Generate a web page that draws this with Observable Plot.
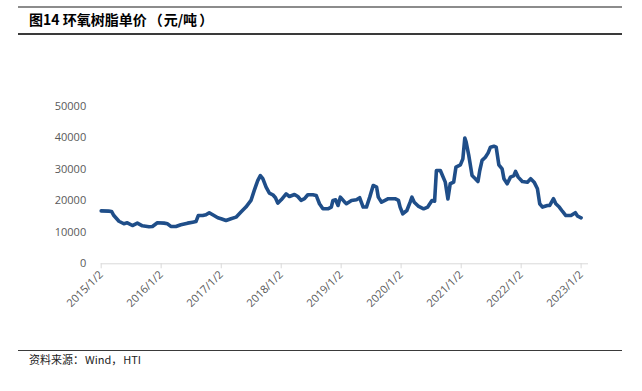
<!DOCTYPE html>
<html>
<head>
<meta charset="utf-8">
<script src="https://cdn.jsdelivr.net/npm/d3@7"></script>
<script src="https://cdn.jsdelivr.net/npm/@observablehq/plot@0.6"></script>
<style>
  html, body { margin: 0; padding: 0; background: #fff; }
  #wrap { position: relative; width: 642px; height: 391px; overflow: hidden; background: #fff; }
  #chart { position: absolute; left: 0; top: 0; }
  .rule { position: absolute; left: 18px; width: 604px; }
  #title { position: absolute; left: 29px; top: 10px; font-family: "Noto Sans CJK SC", sans-serif; font-weight: bold; font-size: 14px; color: #000; white-space: nowrap; line-height: 18px; }
  #source { position: absolute; left: 29px; top: 351px; font-family: "Noto Sans CJK SC", sans-serif; font-size: 11px; color: #222; white-space: nowrap; line-height: 16px; }
  .pl { padding-left: 2px; padding-right: 1px; }
  .pr { padding-left: 2px; padding-right: 4px; }
  .cm { padding-right: 1px; }
</style>
</head>
<body>
<div id="wrap">
  <div class="rule" style="top:6px;height:2px;background:#8c8c8c;"></div>
  <div id="title">图14 环氧树脂单价<span class="pl">（</span>元/吨<span class="pr">）</span></div>
  <div class="rule" style="top:33px;height:1.5px;background:#3a3a3a;"></div>
  <div id="chart"></div>
  <div class="rule" style="top:350px;height:1px;background:#3a3a3a;"></div>
  <div id="source">资料来源<span class="cm">：</span>Wind<span class="cm">，</span>HTI</div>
</div>
<script>
const dates = [
  "2015-01-02","2015-02-17","2015-03-06","2015-03-20","2015-04-20","2015-05-20","2015-06-10","2015-07-11",
  "2015-08-10","2015-09-10","2015-10-20","2015-11-10","2015-12-10","2016-01-20","2016-02-10","2016-03-01",
  "2016-04-01","2016-05-01","2016-06-11","2016-07-12","2016-08-01","2016-08-15","2016-09-11","2016-10-01",
  "2016-10-21","2016-11-11","2016-12-12","2017-01-01","2017-01-31","2017-03-02","2017-04-02","2017-05-02",
  "2017-06-01","2017-07-02","2017-07-22","2017-08-12","2017-08-28","2017-09-12","2017-10-02","2017-10-22",
  "2017-11-12","2017-11-28","2017-12-12","2018-01-02","2018-02-01","2018-02-21","2018-03-24","2018-04-13",
  "2018-05-03","2018-05-24","2018-06-13","2018-07-14","2018-08-03","2018-08-23","2018-09-13","2018-10-13",
  "2018-11-03","2018-11-13","2018-11-29","2018-12-14","2018-12-28","2019-01-24","2019-02-03","2019-03-06",
  "2019-04-05","2019-04-25","2019-05-16","2019-06-05","2019-06-25","2019-07-16","2019-08-06","2019-08-16",
  "2019-09-05","2019-09-26","2019-10-16","2019-11-26","2019-12-17","2019-12-27","2020-01-12","2020-02-06",
  "2020-02-26","2020-03-08","2020-03-22","2020-04-18","2020-05-18","2020-06-12","2020-07-08","2020-07-24",
  "2020-08-04","2020-08-28","2020-09-27","2020-10-13","2020-10-27","2020-11-17","2020-12-01","2020-12-28",
  "2021-01-12","2021-01-24","2021-02-01","2021-02-17","2021-03-09","2021-03-29","2021-04-14","2021-04-25",
  "2021-05-09","2021-05-29","2021-06-15","2021-06-29","2021-07-20","2021-08-03","2021-08-19","2021-09-08",
  "2021-09-19","2021-10-09","2021-10-29","2021-11-19","2021-11-29","2021-12-15","2022-01-09","2022-02-09",
  "2022-03-01","2022-03-22","2022-04-11","2022-04-25","2022-05-12","2022-06-11","2022-06-25","2022-07-18",
  "2022-08-01","2022-08-22","2022-09-11","2022-10-01","2022-11-01","2022-11-28","2022-12-12","2023-01-02"
];
const prices = [
  16800,16700,16600,15300,13500,12700,13000,12150,
  12900,12050,11750,11850,13000,12900,12700,11850,
  11850,12400,12900,13200,13400,15300,15300,15550,
  16200,15550,14600,14300,13750,14300,14800,16400,
  18000,20100,23300,26400,28000,27000,24300,22400,
  21900,20950,19250,20300,22200,21350,22000,21350,
  20100,20650,21900,21900,21700,19050,17450,17450,
  18000,20100,20300,18500,21150,19550,19050,20100,
  20300,20950,18000,18000,21150,24850,24300,21150,
  19550,20100,20650,20650,20100,18000,15870,16900,
  19550,21150,19550,18200,17450,18000,20100,19870,
  29600,29600,25900,20600,25400,25900,30700,31400,
  33300,39900,38600,34400,28000,27000,26100,29600,
  32800,33800,35200,37000,37300,37000,31400,30100,
  27000,25400,27500,28000,29300,27500,26100,25900,
  27000,25900,23800,19050,18000,18500,18500,20650,
  19050,18000,16600,15300,15300,16200,15100,14600
];
const xTickDates = ["2015-01-02","2016-01-02","2017-01-02","2018-01-02","2019-01-02","2020-01-02","2021-01-02","2022-01-02","2023-01-02"];
const xTickLabels = ["2015/1/2","2016/1/2","2017/1/2","2018/1/2","2019/1/2","2020/1/2","2021/1/2","2022/1/2","2023/1/2"];
const yTicks = [0, 10000, 20000, 30000, 40000, 50000];
const xDomain = ["2015-01-02", "2023-02-16"];

const data = dates.map((d, i) => ({date: new Date(d), price: prices[i]}));
const tickDates = xTickDates.map(d => new Date(d));
const labelOf = new Map(tickDates.map((d, i) => [+d, xTickLabels[i]]));

const chart = Plot.plot({
  width: 642,
  height: 391,
  marginLeft: 100.7,
  marginRight: 54,
  marginTop: 105.7,
  marginBottom: 127.7,
  style: {fontFamily: "'Open Sans', sans-serif", fontSize: "11px", background: "transparent"},
  x: {type: "utc", domain: xDomain.map(d => new Date(d))},
  y: {domain: [0, 50000]},
  marks: [
    Plot.ruleY([0], {stroke: "#d9d9d9", strokeWidth: 1}),
    Plot.axisX({ticks: tickDates, tickSize: 5, stroke: "#d9d9d9", fill: "#595959", tickRotate: -45, tickPadding: 4,
      tickFormat: d => labelOf.get(+d), label: null, fontSize: 11}),
    Plot.axisY({ticks: yTicks, tickSize: 0, tickPadding: 15, fill: "#595959", tickFormat: d3.format("d"), label: null, fontSize: 11}),
    Plot.lineY(data, {x: "date", y: "price", stroke: "#1f4e89", strokeWidth: 3.6, strokeLinejoin: "round", strokeLinecap: "round"})
  ]
});
document.getElementById("chart").appendChild(chart);
</script>
</body>
</html>
